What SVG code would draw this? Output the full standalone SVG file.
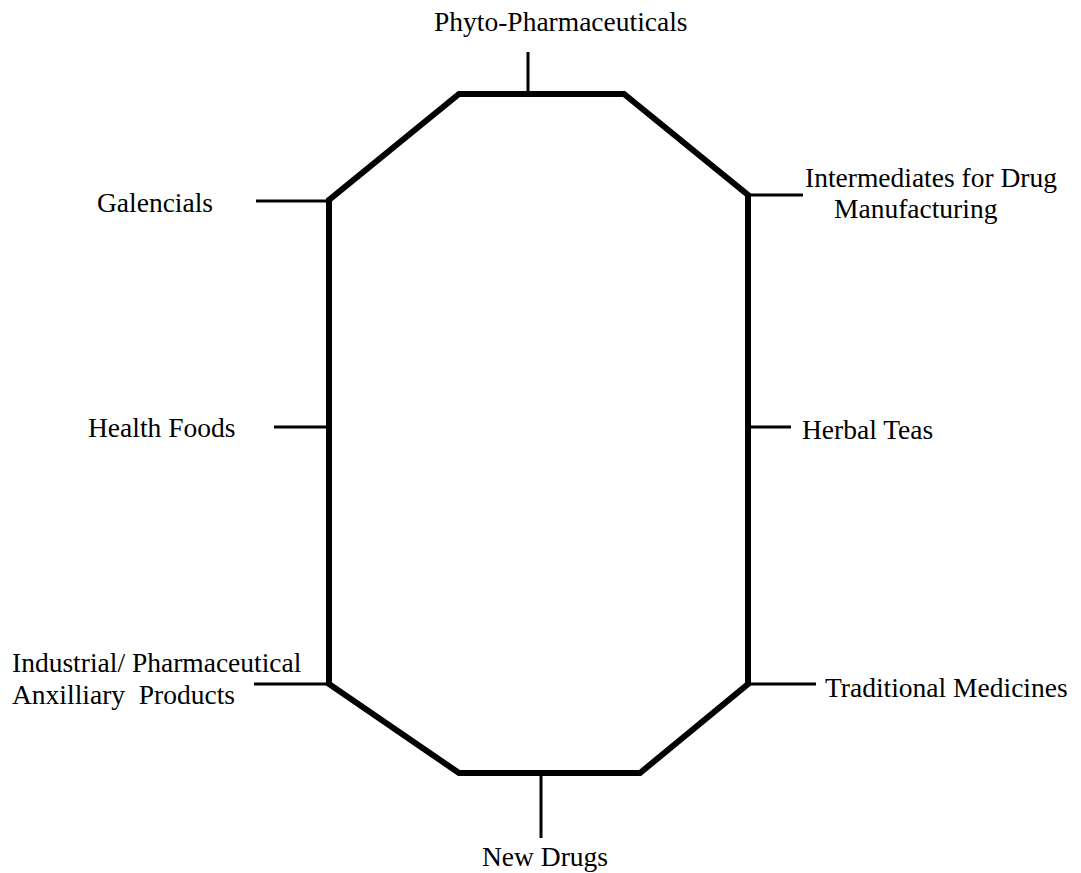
<svg xmlns="http://www.w3.org/2000/svg" width="1081" height="873" viewBox="0 0 1081 873">
<style>
.oct{fill:none;stroke:#000;stroke-width:6;stroke-linejoin:miter}
.tick{stroke:#000;stroke-width:3;fill:none}
text{font-family:"Liberation Serif","Times New Roman",serif;font-size:27.5px;fill:#000}
</style>
<rect width="1081" height="873" fill="#fff"/>
<g id="hub">
<polygon class="oct" points="459,94 624,94 748,195 748,684 640,773 459,773 329,684 329,200"/>
</g>
<g id="connectors">
<line class="tick" x1="528" y1="52" x2="528" y2="94"/>
<line class="tick" x1="256" y1="201" x2="329" y2="201"/>
<line class="tick" x1="748" y1="195" x2="803" y2="195"/>
<line class="tick" x1="274" y1="427" x2="329" y2="427"/>
<line class="tick" x1="748" y1="427" x2="791" y2="427"/>
<line class="tick" x1="254" y1="684" x2="329" y2="684"/>
<line class="tick" x1="748" y1="684" x2="816" y2="684"/>
<line class="tick" x1="541" y1="773" x2="541" y2="838"/>
</g>
<g id="phyto"><text x="434" y="31">Phyto-Pharmaceuticals</text></g>
<g id="galencials"><text x="97" y="212">Galencials</text></g>
<g id="intermediates"><text x="805" y="187">Intermediates for Drug</text><text x="834" y="218">Manufacturing</text></g>
<g id="health"><text x="88" y="437">Health Foods</text></g>
<g id="herbal"><text x="802" y="439">Herbal Teas</text></g>
<g id="industrial"><text x="12" y="672">Industrial/ Pharmaceutical</text><text x="12" y="704" xml:space="preserve">Anxilliary  Products</text></g>
<g id="traditional"><text x="825" y="697">Traditional Medicines</text></g>
<g id="newdrugs"><text x="482" y="866">New Drugs</text></g>
</svg>
